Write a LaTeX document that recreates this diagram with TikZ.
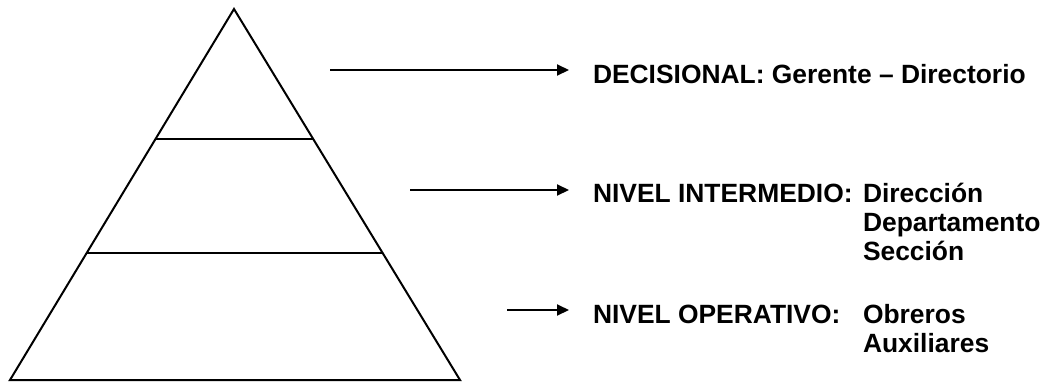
\documentclass[tikz,border=0pt]{standalone}
\usepackage{fontspec}
\setmainfont{Liberation Sans}
\usetikzlibrary{calc}
\usetikzlibrary{arrows.meta}

\tikzset{
  lbl/.style={inner sep=0pt, anchor=base west, font=\fontsize{26.4}{30}\selectfont\bfseries},
  levelarrow/.style={-{Triangle[length=12pt,width=11pt]}, line width=2pt, shorten >=23pt}
}

\begin{document}
\begin{tikzpicture}[x=1pt, y=-1pt, line width=2pt]
  % Fix the picture size
  \useasboundingbox (0,0) rectangle (1059,383);

  % Draw the pyramid
  \coordinate (apex) at (234,9);
  \coordinate (bl) at (10,380);
  \coordinate (br) at (460,380);
  \draw[line join=miter] (apex) -- (bl) -- (br) -- cycle;

  % Draw the lines between the levels
  \draw ($(apex)!0.350!(bl)$) -- ($(apex)!0.350!(br)$);
  \draw ($(apex)!0.658!(bl)$) -- ($(apex)!0.658!(br)$);

  % Label the levels
  \node[lbl] (dec) at (592,83) {DECISIONAL: Gerente -- Directorio};
  \node[lbl] (inter) at (592,202) {NIVEL INTERMEDIO:};
  \node[lbl] (dir) at (862,202) {Dirección};
  \node[lbl] (dep) at (862,231) {Departamento};
  \node[lbl] (sec) at (862,260) {Sección};
  \node[lbl] (oper) at (592,323) {NIVEL OPERATIVO:};
  \node[lbl] (obr) at (862,323) {Obreros};
  \node[lbl] (aux) at (862,352) {Auxiliares};

  % Draw the arrows to the labels
  \coordinate (s1) at (330,70);
  \coordinate (s2) at (410,190);
  \coordinate (s3) at (507,310);
  \draw[levelarrow] (s1) -- (s1 -| dec.west);
  \draw[levelarrow] (s2) -- (s2 -| inter.west);
  \draw[levelarrow] (s3) -- (s3 -| oper.west);
\end{tikzpicture}
\end{document}
